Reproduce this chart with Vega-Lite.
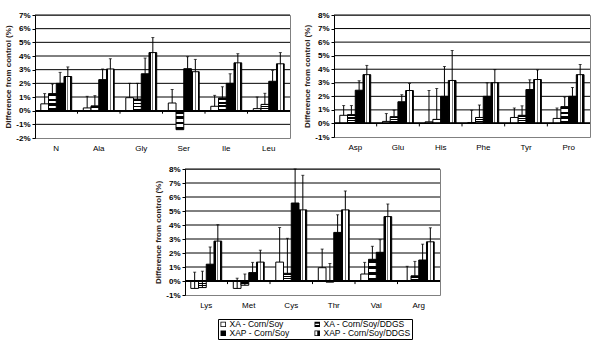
{
  "$schema": "https://vega.github.io/schema/vega-lite/v6.json",
  "padding": {"left": 4, "top": 10, "right": 5, "bottom": 0},
  "background": "white",
  "config": {
    "view": {"stroke": "#808080"},
    "font": "Liberation Sans",
    "axisX": {"labelFontSize": 8, "labelColor": "black", "labelAngle": 0, "ticks": false, "domain": false, "labelPadding": 6, "title": null, "grid": false},
    "axisY": {"grid": false, "labelFontSize": 8, "labelFontWeight": "bold", "labelColor": "black", "titleFontSize": 8, "titleFontWeight": "bold", "titleColor": "#2a2118", "domainColor": "black", "tickColor": "black", "tickSize": 3, "labelPadding": 2, "titlePadding": 3},
    "legend": {"labelFontSize": 8.5, "labelColor": "black", "symbolSize": 30, "symbolStrokeWidth": 0, "symbolOpacity": 1, "strokeColor": "black", "padding": 1, "rowPadding": 0, "columnPadding": 23, "labelOffset": 2}
  },
  "data": {"values": [
    {"panel": "A", "cat": "N", "series": "XA - Corn/Soy", "v": 0.5, "hi": 1.25},
    {"panel": "A", "cat": "N", "series": "XA - Corn/Soy/DDGS", "v": 1.25, "hi": 1.95},
    {"panel": "A", "cat": "N", "series": "XAP - Corn/Soy", "v": 2.0, "hi": 2.8},
    {"panel": "A", "cat": "N", "series": "XAP - Corn/Soy/DDGS", "v": 2.5, "hi": 3.2},
    {"panel": "A", "cat": "Ala", "series": "XA - Corn/Soy", "v": 0.2, "hi": 1.05},
    {"panel": "A", "cat": "Ala", "series": "XA - Corn/Soy/DDGS", "v": 0.35, "hi": 1.1},
    {"panel": "A", "cat": "Ala", "series": "XAP - Corn/Soy", "v": 2.27, "hi": 3.05},
    {"panel": "A", "cat": "Ala", "series": "XAP - Corn/Soy/DDGS", "v": 3.05, "hi": 3.8},
    {"panel": "A", "cat": "Gly", "series": "XA - Corn/Soy", "v": 0.95, "hi": 2.0},
    {"panel": "A", "cat": "Gly", "series": "XA - Corn/Soy/DDGS", "v": 0.85, "hi": 2.0},
    {"panel": "A", "cat": "Gly", "series": "XAP - Corn/Soy", "v": 2.7, "hi": 3.85},
    {"panel": "A", "cat": "Gly", "series": "XAP - Corn/Soy/DDGS", "v": 4.25, "hi": 5.35},
    {"panel": "A", "cat": "Ser", "series": "XA - Corn/Soy", "v": 0.56, "hi": 1.55},
    {"panel": "A", "cat": "Ser", "series": "XA - Corn/Soy/DDGS", "v": -1.39, "hi": null},
    {"panel": "A", "cat": "Ser", "series": "XAP - Corn/Soy", "v": 3.07, "hi": 3.95},
    {"panel": "A", "cat": "Ser", "series": "XAP - Corn/Soy/DDGS", "v": 2.85, "hi": 3.75},
    {"panel": "A", "cat": "Ile", "series": "XA - Corn/Soy", "v": 0.32, "hi": 1.12},
    {"panel": "A", "cat": "Ile", "series": "XA - Corn/Soy/DDGS", "v": 0.93, "hi": 1.75},
    {"panel": "A", "cat": "Ile", "series": "XAP - Corn/Soy", "v": 2.0, "hi": 2.7},
    {"panel": "A", "cat": "Ile", "series": "XAP - Corn/Soy/DDGS", "v": 3.5, "hi": 4.17},
    {"panel": "A", "cat": "Leu", "series": "XA - Corn/Soy", "v": 0.15, "hi": 1.0},
    {"panel": "A", "cat": "Leu", "series": "XA - Corn/Soy/DDGS", "v": 0.46, "hi": 1.27},
    {"panel": "A", "cat": "Leu", "series": "XAP - Corn/Soy", "v": 2.15, "hi": 2.95},
    {"panel": "A", "cat": "Leu", "series": "XAP - Corn/Soy/DDGS", "v": 3.43, "hi": 4.25},
    {"panel": "B", "cat": "Asp", "series": "XA - Corn/Soy", "v": 0.6, "hi": 1.32},
    {"panel": "B", "cat": "Asp", "series": "XA - Corn/Soy/DDGS", "v": 0.65, "hi": 1.32},
    {"panel": "B", "cat": "Asp", "series": "XAP - Corn/Soy", "v": 2.45, "hi": 3.15},
    {"panel": "B", "cat": "Asp", "series": "XAP - Corn/Soy/DDGS", "v": 3.6, "hi": 4.28},
    {"panel": "B", "cat": "Glu", "series": "XA - Corn/Soy", "v": 0.15, "hi": 0.73},
    {"panel": "B", "cat": "Glu", "series": "XA - Corn/Soy/DDGS", "v": 0.5, "hi": 0.98},
    {"panel": "B", "cat": "Glu", "series": "XAP - Corn/Soy", "v": 1.6, "hi": 2.12},
    {"panel": "B", "cat": "Glu", "series": "XAP - Corn/Soy/DDGS", "v": 2.43, "hi": 2.95},
    {"panel": "B", "cat": "His", "series": "XA - Corn/Soy", "v": 0.12, "hi": 2.43},
    {"panel": "B", "cat": "His", "series": "XA - Corn/Soy/DDGS", "v": 0.3, "hi": 2.58},
    {"panel": "B", "cat": "His", "series": "XAP - Corn/Soy", "v": 2.0, "hi": 4.2},
    {"panel": "B", "cat": "His", "series": "XAP - Corn/Soy/DDGS", "v": 3.17, "hi": 5.38},
    {"panel": "B", "cat": "Phe", "series": "XA - Corn/Soy", "v": 0.07, "hi": 0.97},
    {"panel": "B", "cat": "Phe", "series": "XA - Corn/Soy/DDGS", "v": 0.44, "hi": 1.36},
    {"panel": "B", "cat": "Phe", "series": "XAP - Corn/Soy", "v": 2.0, "hi": 3.0},
    {"panel": "B", "cat": "Phe", "series": "XAP - Corn/Soy/DDGS", "v": 3.0, "hi": 3.97},
    {"panel": "B", "cat": "Tyr", "series": "XA - Corn/Soy", "v": 0.44, "hi": 1.14},
    {"panel": "B", "cat": "Tyr", "series": "XA - Corn/Soy/DDGS", "v": 0.6, "hi": 1.3},
    {"panel": "B", "cat": "Tyr", "series": "XAP - Corn/Soy", "v": 2.5, "hi": 3.22},
    {"panel": "B", "cat": "Tyr", "series": "XAP - Corn/Soy/DDGS", "v": 3.24, "hi": 3.95},
    {"panel": "B", "cat": "Pro", "series": "XA - Corn/Soy", "v": 0.37, "hi": 1.14},
    {"panel": "B", "cat": "Pro", "series": "XA - Corn/Soy/DDGS", "v": 1.24, "hi": 1.95},
    {"panel": "B", "cat": "Pro", "series": "XAP - Corn/Soy", "v": 2.0, "hi": 2.65},
    {"panel": "B", "cat": "Pro", "series": "XAP - Corn/Soy/DDGS", "v": 3.6, "hi": 4.35},
    {"panel": "C", "cat": "Lys", "series": "XA - Corn/Soy", "v": -0.53, "hi": 0.63},
    {"panel": "C", "cat": "Lys", "series": "XA - Corn/Soy/DDGS", "v": -0.47, "hi": 0.7},
    {"panel": "C", "cat": "Lys", "series": "XAP - Corn/Soy", "v": 1.2, "hi": 2.43},
    {"panel": "C", "cat": "Lys", "series": "XAP - Corn/Soy/DDGS", "v": 2.85, "hi": 4.02},
    {"panel": "C", "cat": "Met", "series": "XA - Corn/Soy", "v": -0.53, "hi": 0.2},
    {"panel": "C", "cat": "Met", "series": "XA - Corn/Soy/DDGS", "v": -0.3, "hi": 0.5},
    {"panel": "C", "cat": "Met", "series": "XAP - Corn/Soy", "v": 0.6, "hi": 1.33},
    {"panel": "C", "cat": "Met", "series": "XAP - Corn/Soy/DDGS", "v": 1.35, "hi": 2.2},
    {"panel": "C", "cat": "Cys", "series": "XA - Corn/Soy", "v": 1.35, "hi": 3.82},
    {"panel": "C", "cat": "Cys", "series": "XA - Corn/Soy/DDGS", "v": 0.55, "hi": 3.05},
    {"panel": "C", "cat": "Cys", "series": "XAP - Corn/Soy", "v": 5.57, "hi": 8.0},
    {"panel": "C", "cat": "Cys", "series": "XAP - Corn/Soy/DDGS", "v": 5.08, "hi": 7.55},
    {"panel": "C", "cat": "Thr", "series": "XA - Corn/Soy", "v": 0.95, "hi": 2.28},
    {"panel": "C", "cat": "Thr", "series": "XA - Corn/Soy/DDGS", "v": -0.08, "hi": 1.25},
    {"panel": "C", "cat": "Thr", "series": "XAP - Corn/Soy", "v": 3.47, "hi": 4.73},
    {"panel": "C", "cat": "Thr", "series": "XAP - Corn/Soy/DDGS", "v": 5.08, "hi": 6.43},
    {"panel": "C", "cat": "Val", "series": "XA - Corn/Soy", "v": 0.5, "hi": 1.33},
    {"panel": "C", "cat": "Val", "series": "XA - Corn/Soy/DDGS", "v": 1.55, "hi": 2.48},
    {"panel": "C", "cat": "Val", "series": "XAP - Corn/Soy", "v": 2.05, "hi": 2.95},
    {"panel": "C", "cat": "Val", "series": "XAP - Corn/Soy/DDGS", "v": 4.6, "hi": 5.5},
    {"panel": "C", "cat": "Arg", "series": "XA - Corn/Soy", "v": 0.02, "hi": 1.05},
    {"panel": "C", "cat": "Arg", "series": "XA - Corn/Soy/DDGS", "v": 0.37, "hi": 1.4},
    {"panel": "C", "cat": "Arg", "series": "XAP - Corn/Soy", "v": 1.5, "hi": 2.63},
    {"panel": "C", "cat": "Arg", "series": "XAP - Corn/Soy/DDGS", "v": 2.8, "hi": 3.8}
  ]},
  "center": true,
  "spacing": 11,
  "vconcat": [
    {
      "spacing": 12,
      "hconcat": [
        {
          "width": 255, "height": 123,
          "transform": [{"filter": "datum.panel == 'A'"}],
          "encoding": {
            "x": {"field": "cat", "type": "nominal", "sort": ["N", "Ala", "Gly", "Ser", "Ile", "Leu"], "scale": {"paddingInner": 0, "paddingOuter": 0}},
            "xOffset": {"field": "series", "type": "nominal", "sort": ["XA - Corn/Soy", "XA - Corn/Soy/DDGS", "XAP - Corn/Soy", "XAP - Corn/Soy/DDGS"], "scale": {"paddingInner": 0, "paddingOuter": 0.75}},
            "y": {"field": "v", "type": "quantitative", "title": "Difference from control (%)", "scale": {"domain": [-2, 7], "nice": false}, "axis": {"values": [-2, -1, 0, 1, 2, 3, 4, 5, 6, 7], "labelExpr": "datum.value + '%'"}}
          },
          "layer": [
            {
              "data": {"values": [{"panel": "A", "g": -1}, {"panel": "A", "g": 1}, {"panel": "A", "g": 2}, {"panel": "A", "g": 3}, {"panel": "A", "g": 4}, {"panel": "A", "g": 5}, {"panel": "A", "g": 6}, {"panel": "A", "g": 7}]},
              "mark": {"type": "rule", "color": "black", "strokeWidth": 1},
              "encoding": {"x": null, "xOffset": null, "y": {"field": "g", "type": "quantitative", "title": "Difference from control (%)"}}
            },
            {
              "transform": [{"filter": "datum.series == 'XA - Corn/Soy'"}],
              "mark": {"type": "bar", "stroke": "black", "strokeWidth": 1, "fill": "white"}
            },
            {
              "transform": [{"filter": "datum.series == 'XAP - Corn/Soy'"}],
              "mark": {"type": "bar", "stroke": "black", "strokeWidth": 1, "fill": "black"}
            },
            {
              "transform": [{"filter": "datum.series == 'XA - Corn/Soy/DDGS'"}],
              "mark": {"type": "bar", "stroke": "black", "strokeWidth": 1, "fill": {"gradient": "linear", "x1": 0, "y1": 0, "x2": 0, "y2": 1, "stops": [
                {"offset": 0, "color": "black"}, {"offset": 0.16, "color": "black"}, {"offset": 0.16, "color": "white"}, {"offset": 0.3, "color": "white"},
                {"offset": 0.3, "color": "black"}, {"offset": 0.44, "color": "black"}, {"offset": 0.44, "color": "white"}, {"offset": 0.58, "color": "white"},
                {"offset": 0.58, "color": "black"}, {"offset": 0.72, "color": "black"}, {"offset": 0.72, "color": "white"}, {"offset": 0.86, "color": "white"},
                {"offset": 0.86, "color": "black"}, {"offset": 1, "color": "black"}]}}
            },
            {
              "transform": [{"filter": "datum.series == 'XAP - Corn/Soy/DDGS'"}],
              "mark": {"type": "bar", "stroke": "black", "strokeWidth": 1, "fill": {"gradient": "linear", "x1": 0, "y1": 0, "x2": 1, "y2": 0, "stops": [
                {"offset": 0, "color": "black"}, {"offset": 0.22, "color": "black"}, {"offset": 0.22, "color": "white"}, {"offset": 0.42, "color": "white"},
                {"offset": 0.42, "color": "#777777"}, {"offset": 0.58, "color": "#777777"}, {"offset": 0.58, "color": "white"}, {"offset": 0.78, "color": "white"},
                {"offset": 0.78, "color": "black"}, {"offset": 1, "color": "black"}]}}
            },
            {
              "mark": {"type": "point", "filled": true, "color": "black", "opacity": 0},
              "encoding": {
                "shape": {"field": "series", "type": "nominal", "title": null,
                  "scale": {"domain": ["XA - Corn/Soy", "XA - Corn/Soy/DDGS", "XAP - Corn/Soy", "XAP - Corn/Soy/DDGS"],
                    "range": ["M-1,-1H1V1H-1Z M-0.72,-0.72V0.72H0.72V-0.72Z", "M-1,-1H1V1H-1Z M-0.7,-0.22V0.22H0.7V-0.22Z", "M-1,-1H1V1H-1Z", "M-1,-1H1V1H-1Z M-0.72,-0.72V0.72H0V-0.72Z"]},
                  "legend": {"orient": "none", "legendX": 183, "legendY": 304, "columns": 2, "direction": "horizontal", "symbolOpacity": 1, "symbolFillColor": "black", "strokeColor": "black"}}
              }
            },
            {
              "mark": {"type": "rule", "color": "black", "strokeWidth": 1},
              "encoding": {"y2": {"field": "hi"}}
            },
            {
              "mark": {"type": "tick", "orient": "horizontal", "size": 3, "thickness": 1, "color": "black"},
              "encoding": {"y": {"field": "hi", "type": "quantitative", "title": "Difference from control (%)"}}
            },
            {
              "mark": {"type": "rule", "color": "black", "strokeWidth": 1},
              "encoding": {"x": null, "xOffset": null, "y": {"datum": 0, "type": "quantitative", "title": "Difference from control (%)"}}
            },
            {
              "transform": [{"filter": "datum.series == 'XA - Corn/Soy' && datum.cat != 'N'"}],
              "mark": {"type": "rule", "color": "black", "strokeWidth": 1},
              "encoding": {
                "x": {"field": "cat", "type": "nominal", "bandPosition": 0, "sort": ["N", "Ala", "Gly", "Ser", "Ile", "Leu"]},
                "xOffset": null,
                "y": {"datum": 0, "type": "quantitative", "title": "Difference from control (%)"},
                "y2": {"datum": -0.22}
              }
            }
          ]
        },
        {
          "width": 256, "height": 122,
          "transform": [{"filter": "datum.panel == 'B'"}],
          "encoding": {
            "x": {"field": "cat", "type": "nominal", "sort": ["Asp", "Glu", "His", "Phe", "Tyr", "Pro"], "scale": {"paddingInner": 0, "paddingOuter": 0}},
            "xOffset": {"field": "series", "type": "nominal", "sort": ["XA - Corn/Soy", "XA - Corn/Soy/DDGS", "XAP - Corn/Soy", "XAP - Corn/Soy/DDGS"], "scale": {"paddingInner": 0, "paddingOuter": 0.75}},
            "y": {"field": "v", "type": "quantitative", "title": "Difference from control (%)", "scale": {"domain": [-1, 8], "nice": false}, "axis": {"values": [-1, 0, 1, 2, 3, 4, 5, 6, 7, 8], "labelExpr": "datum.value + '%'"}}
          },
          "layer": [
            {
              "data": {"values": [{"panel": "B", "g": 1}, {"panel": "B", "g": 2}, {"panel": "B", "g": 3}, {"panel": "B", "g": 4}, {"panel": "B", "g": 5}, {"panel": "B", "g": 6}, {"panel": "B", "g": 7}, {"panel": "B", "g": 8}]},
              "mark": {"type": "rule", "color": "black", "strokeWidth": 1},
              "encoding": {"x": null, "xOffset": null, "y": {"field": "g", "type": "quantitative", "title": "Difference from control (%)"}}
            },
            {
              "transform": [{"filter": "datum.series == 'XA - Corn/Soy'"}],
              "mark": {"type": "bar", "stroke": "black", "strokeWidth": 1, "fill": "white"}
            },
            {
              "transform": [{"filter": "datum.series == 'XAP - Corn/Soy'"}],
              "mark": {"type": "bar", "stroke": "black", "strokeWidth": 1, "fill": "black"}
            },
            {
              "transform": [{"filter": "datum.series == 'XA - Corn/Soy/DDGS'"}],
              "mark": {"type": "bar", "stroke": "black", "strokeWidth": 1, "fill": {"gradient": "linear", "x1": 0, "y1": 0, "x2": 0, "y2": 1, "stops": [
                {"offset": 0, "color": "black"}, {"offset": 0.16, "color": "black"}, {"offset": 0.16, "color": "white"}, {"offset": 0.3, "color": "white"},
                {"offset": 0.3, "color": "black"}, {"offset": 0.44, "color": "black"}, {"offset": 0.44, "color": "white"}, {"offset": 0.58, "color": "white"},
                {"offset": 0.58, "color": "black"}, {"offset": 0.72, "color": "black"}, {"offset": 0.72, "color": "white"}, {"offset": 0.86, "color": "white"},
                {"offset": 0.86, "color": "black"}, {"offset": 1, "color": "black"}]}}
            },
            {
              "transform": [{"filter": "datum.series == 'XAP - Corn/Soy/DDGS'"}],
              "mark": {"type": "bar", "stroke": "black", "strokeWidth": 1, "fill": {"gradient": "linear", "x1": 0, "y1": 0, "x2": 1, "y2": 0, "stops": [
                {"offset": 0, "color": "black"}, {"offset": 0.22, "color": "black"}, {"offset": 0.22, "color": "white"}, {"offset": 0.42, "color": "white"},
                {"offset": 0.42, "color": "#777777"}, {"offset": 0.58, "color": "#777777"}, {"offset": 0.58, "color": "white"}, {"offset": 0.78, "color": "white"},
                {"offset": 0.78, "color": "black"}, {"offset": 1, "color": "black"}]}}
            },
            {
              "mark": {"type": "rule", "color": "black", "strokeWidth": 1},
              "encoding": {"y2": {"field": "hi"}}
            },
            {
              "mark": {"type": "tick", "orient": "horizontal", "size": 3, "thickness": 1, "color": "black"},
              "encoding": {"y": {"field": "hi", "type": "quantitative", "title": "Difference from control (%)"}}
            },
            {
              "mark": {"type": "rule", "color": "black", "strokeWidth": 1},
              "encoding": {"x": null, "xOffset": null, "y": {"datum": 0, "type": "quantitative", "title": "Difference from control (%)"}}
            },
            {
              "transform": [{"filter": "datum.series == 'XA - Corn/Soy' && datum.cat != 'Asp'"}],
              "mark": {"type": "rule", "color": "black", "strokeWidth": 1},
              "encoding": {
                "x": {"field": "cat", "type": "nominal", "bandPosition": 0, "sort": ["Asp", "Glu", "His", "Phe", "Tyr", "Pro"]},
                "xOffset": null,
                "y": {"datum": 0, "type": "quantitative", "title": "Difference from control (%)"},
                "y2": {"datum": -0.22}
              }
            }
          ]
        }
      ]
    },
    {
      "width": 255, "height": 126,
      "transform": [{"filter": "datum.panel == 'C'"}],
      "encoding": {
        "x": {"field": "cat", "type": "nominal", "sort": ["Lys", "Met", "Cys", "Thr", "Val", "Arg"], "scale": {"paddingInner": 0, "paddingOuter": 0}},
        "xOffset": {"field": "series", "type": "nominal", "sort": ["XA - Corn/Soy", "XA - Corn/Soy/DDGS", "XAP - Corn/Soy", "XAP - Corn/Soy/DDGS"], "scale": {"paddingInner": 0, "paddingOuter": 0.75}},
        "y": {"field": "v", "type": "quantitative", "title": "Difference from control (%)", "scale": {"domain": [-1, 8], "nice": false}, "axis": {"values": [-1, 0, 1, 2, 3, 4, 5, 6, 7, 8], "labelExpr": "datum.value + '%'"}}
      },
      "layer": [
        {
          "data": {"values": [{"panel": "C", "g": 1}, {"panel": "C", "g": 2}, {"panel": "C", "g": 3}, {"panel": "C", "g": 4}, {"panel": "C", "g": 5}, {"panel": "C", "g": 6}, {"panel": "C", "g": 7}, {"panel": "C", "g": 8}]},
          "mark": {"type": "rule", "color": "black", "strokeWidth": 1},
          "encoding": {"x": null, "xOffset": null, "y": {"field": "g", "type": "quantitative", "title": "Difference from control (%)"}}
        },
        {
          "transform": [{"filter": "datum.series == 'XA - Corn/Soy'"}],
          "mark": {"type": "bar", "stroke": "black", "strokeWidth": 1, "fill": "white"}
        },
        {
          "transform": [{"filter": "datum.series == 'XAP - Corn/Soy'"}],
          "mark": {"type": "bar", "stroke": "black", "strokeWidth": 1, "fill": "black"}
        },
        {
          "transform": [{"filter": "datum.series == 'XA - Corn/Soy/DDGS'"}],
          "mark": {"type": "bar", "stroke": "black", "strokeWidth": 1, "fill": {"gradient": "linear", "x1": 0, "y1": 0, "x2": 0, "y2": 1, "stops": [
            {"offset": 0, "color": "black"}, {"offset": 0.16, "color": "black"}, {"offset": 0.16, "color": "white"}, {"offset": 0.3, "color": "white"},
            {"offset": 0.3, "color": "black"}, {"offset": 0.44, "color": "black"}, {"offset": 0.44, "color": "white"}, {"offset": 0.58, "color": "white"},
            {"offset": 0.58, "color": "black"}, {"offset": 0.72, "color": "black"}, {"offset": 0.72, "color": "white"}, {"offset": 0.86, "color": "white"},
            {"offset": 0.86, "color": "black"}, {"offset": 1, "color": "black"}]}}
        },
        {
          "transform": [{"filter": "datum.series == 'XAP - Corn/Soy/DDGS'"}],
          "mark": {"type": "bar", "stroke": "black", "strokeWidth": 1, "fill": {"gradient": "linear", "x1": 0, "y1": 0, "x2": 1, "y2": 0, "stops": [
            {"offset": 0, "color": "black"}, {"offset": 0.22, "color": "black"}, {"offset": 0.22, "color": "white"}, {"offset": 0.42, "color": "white"},
            {"offset": 0.42, "color": "#777777"}, {"offset": 0.58, "color": "#777777"}, {"offset": 0.58, "color": "white"}, {"offset": 0.78, "color": "white"},
            {"offset": 0.78, "color": "black"}, {"offset": 1, "color": "black"}]}}
        },
        {
          "mark": {"type": "rule", "color": "black", "strokeWidth": 1},
          "encoding": {"y2": {"field": "hi"}}
        },
        {
          "mark": {"type": "tick", "orient": "horizontal", "size": 3, "thickness": 1, "color": "black"},
          "encoding": {"y": {"field": "hi", "type": "quantitative", "title": "Difference from control (%)"}}
        },
        {
          "mark": {"type": "rule", "color": "black", "strokeWidth": 1},
          "encoding": {"x": null, "xOffset": null, "y": {"datum": 0, "type": "quantitative", "title": "Difference from control (%)"}}
        },
        {
          "transform": [{"filter": "datum.series == 'XA - Corn/Soy' && datum.cat != 'Lys'"}],
          "mark": {"type": "rule", "color": "black", "strokeWidth": 1},
          "encoding": {
            "x": {"field": "cat", "type": "nominal", "bandPosition": 0, "sort": ["Lys", "Met", "Cys", "Thr", "Val", "Arg"]},
            "xOffset": null,
            "y": {"datum": 0, "type": "quantitative", "title": "Difference from control (%)"},
            "y2": {"datum": -0.22}
          }
        }
      ]
    }
  ]
}
